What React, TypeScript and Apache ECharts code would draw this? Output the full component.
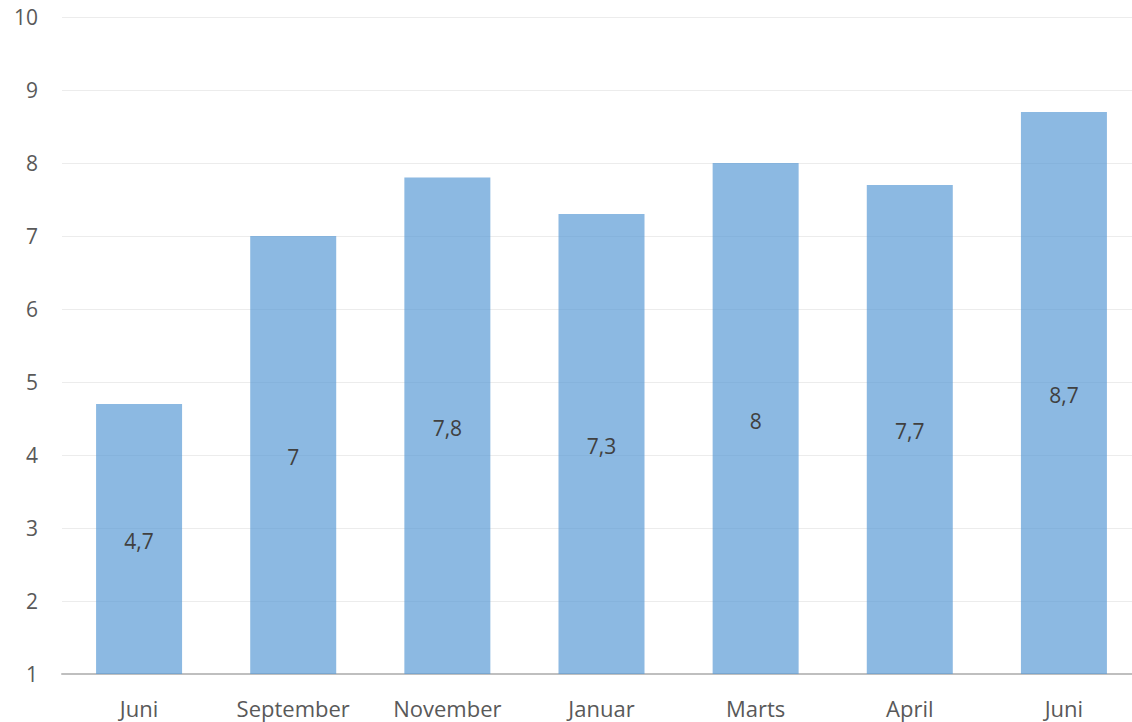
import React, { useEffect, useRef } from "react";
import * as echarts from "echarts";

const categories = ["Juni", "September", "November", "Januar", "Marts", "April", "Juni"];
const values = [4.7, 7, 7.8, 7.3, 8, 7.7, 8.7];
const yMin = 1;
const yMax = 10;

export default function App() {
  const ref = useRef<HTMLDivElement>(null);
  useEffect(() => {
    if (!ref.current) return;
    const chart = echarts.init(ref.current, null, { renderer: "svg" });
    const font = "Open Sans";
    chart.setOption({
      animation: false,
      backgroundColor: "#ffffff",
      textStyle: { fontFamily: font },
      grid: { left: 62, top: 17, width: 1079, height: 657 },
      xAxis: {
        type: "category",
        data: categories,
        axisLine: { lineStyle: { color: "#bfbfbf", width: 2 } },
        axisTick: { show: false },
        axisLabel: { color: "#595959", fontSize: 22, margin: 23, fontFamily: font },
      },
      yAxis: {
        type: "value",
        min: yMin,
        max: yMax,
        interval: 1,
        axisLine: { show: false },
        axisTick: { show: false },
        axisLabel: { color: "#595959", fontSize: 21, margin: 24, fontFamily: font },
        splitLine: { lineStyle: { color: "#ececec", width: 1 } },
      },
      series: [
        {
          type: "bar",
          data: values,
          barWidth: 86,
          itemStyle: { color: "rgba(91,155,213,0.7)" },
          label: {
            show: true,
            position: "inside",
            offset: [0, 2],
            color: "#404040",
            fontSize: 21,
            fontFamily: font,
            formatter: (p: any) => String(p.value).replace(".", ","),
          },
        },
      ],
    });
    return () => chart.dispose();
  }, []);
  return (
    <div style={{ position: "absolute", left: 0, top: 0, width: 1132, height: 722, overflow: "hidden" }}>
      <div ref={ref} style={{ width: 1150, height: 722 }} />
    </div>
  );
}
